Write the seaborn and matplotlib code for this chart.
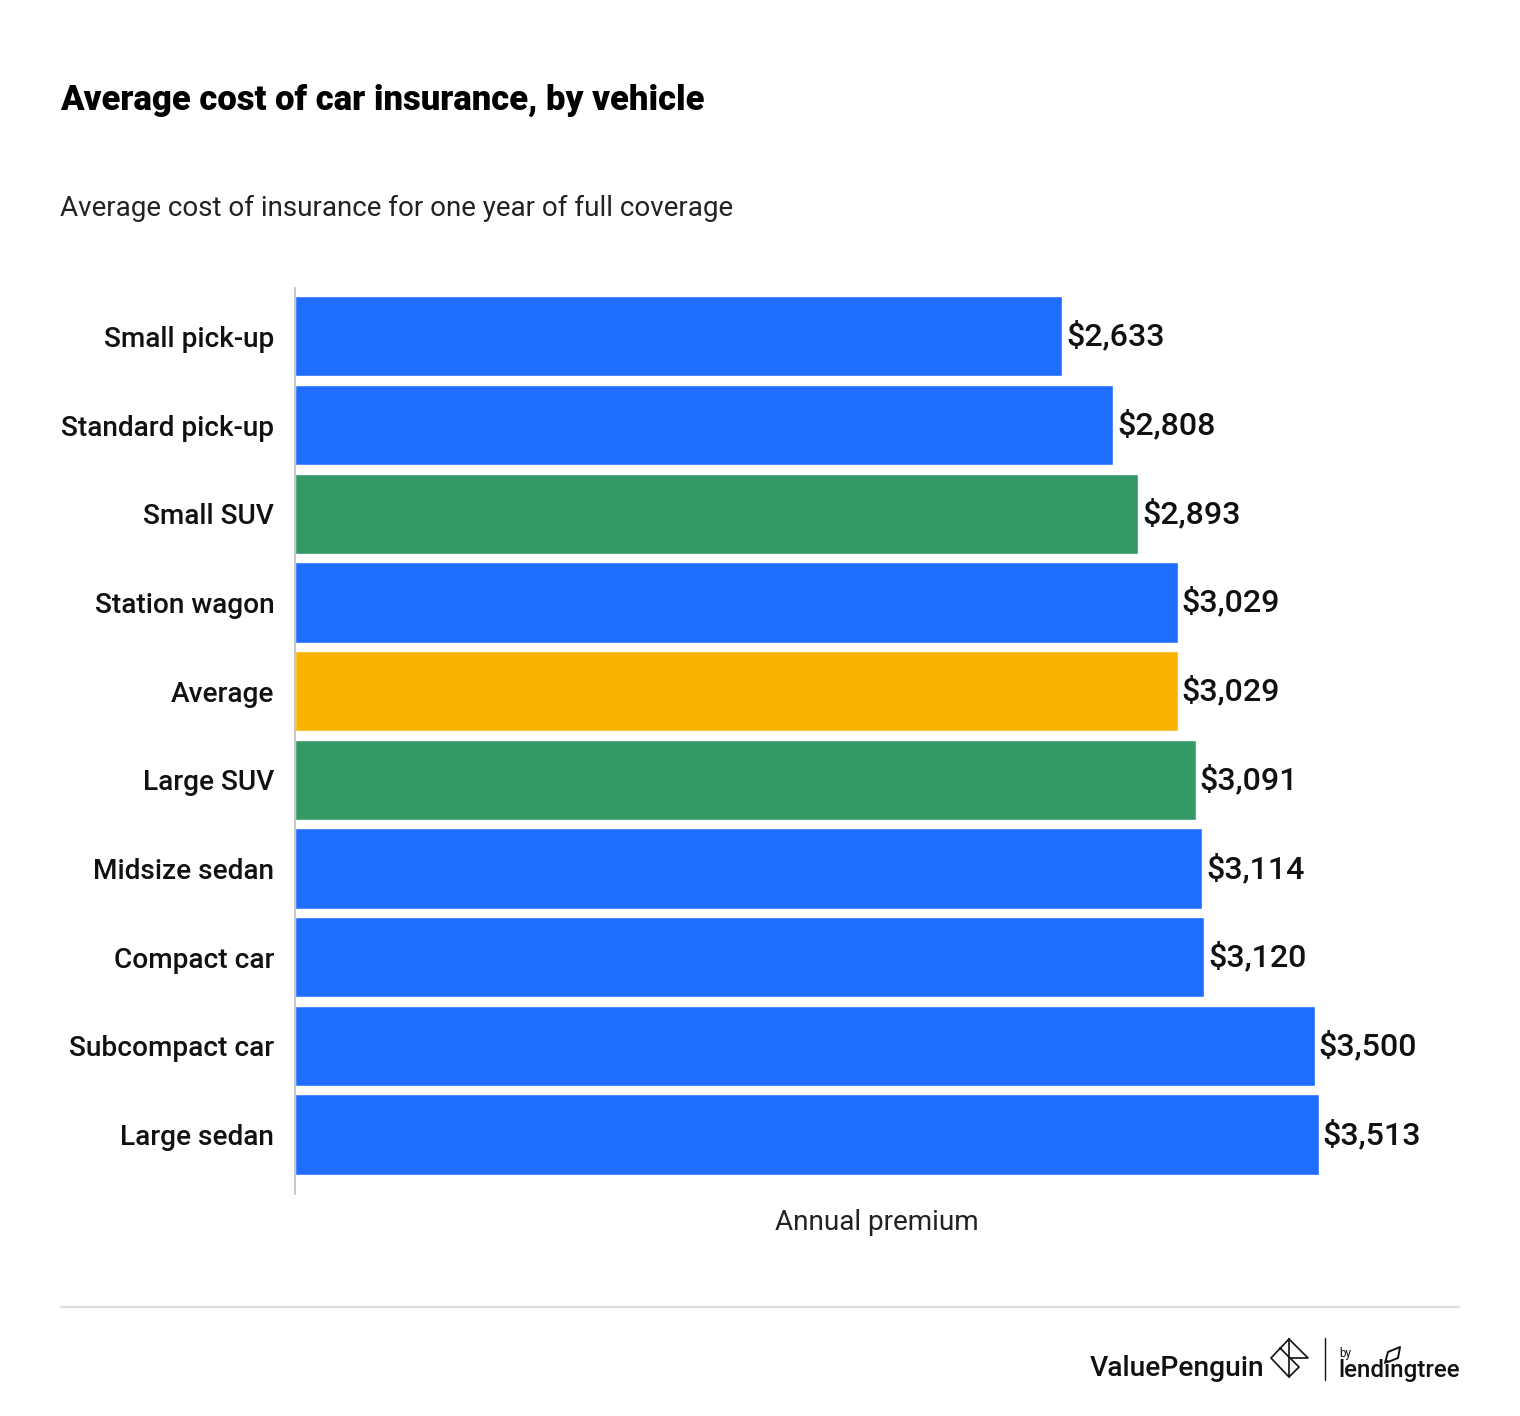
import matplotlib
matplotlib.use('Agg')
import matplotlib.pyplot as plt
from matplotlib.lines import Line2D
import pandas as pd
import seaborn as sns

categories = ['Small pick-up', 'Standard pick-up', 'Small SUV', 'Station wagon', 'Average',
              'Large SUV', 'Midsize sedan', 'Compact car', 'Subcompact car', 'Large sedan']
premiums = [2633, 2808, 2893, 3029, 3029, 3091, 3114, 3120, 3500, 3513]
groups = ['car', 'car', 'suv', 'car', 'avg', 'suv', 'car', 'car', 'car', 'car']
palette = {'car': '#1f6dff', 'suv': '#339966', 'avg': '#fab400'}

sns.set_style('white')
plt.rcParams['font.family'] = ['Roboto', 'DejaVu Sans']
W, H = 1520, 1416

df = pd.DataFrame({'vehicle': categories, 'premium': premiums, 'group': groups})

fig = plt.figure(figsize=(W / 100, H / 100), dpi=100)
ax = fig.add_axes([295 / W, 1 - 1194 / H, (1460 - 295) / W, (1194 - 288) / H])
sns.barplot(data=df, x='premium', y='vehicle', hue='group', palette=palette, dodge=False,
            width=0.905, legend=False, ax=ax, saturation=1)
ax.set_xlim(0, 3998)
ax.set_ylim(9.67, -0.545)
ax.patch.set_alpha(0)
for c in ax.containers:
    labels = ['' if b.get_width() != b.get_width() else '${:,.0f}'.format(b.get_width()) for b in c]
    for t in ax.bar_label(c, labels=labels, padding=2.8, fontsize=23.2, fontweight='medium', color='#111111'):
        t.set_va('center')

sns.despine(ax=ax, top=True, right=True, bottom=True)
ax.spines['left'].set_color('#c8c8c8')
ax.spines['left'].set_linewidth(1.4)
ax.set_xticks([])
ax.set_ylabel('')
ax.set_xlabel('')
ax.tick_params(axis='y', length=0, pad=15)
for t in ax.get_yticklabels():
    t.set_fontsize(20.2)
    t.set_fontweight('medium')
    t.set_color('#111111')


def px(x, y):
    return x / W, 1 - y / H


def stroke(points, lw=1.2):
    fig.add_artist(Line2D([p[0] / W for p in points], [1 - p[1] / H for p in points],
                          color='#111111', lw=lw))


fig.text(*px(60, 100), 'Average cost of car insurance, by vehicle', fontsize=24.9, fontweight='black',
         color='#000000', va='center')
fig.text(*px(60, 208), 'Average cost of insurance for one year of full coverage', fontsize=20,
         color='#222222', va='center')
fig.text(*px(877, 1222), 'Annual premium', fontsize=20.1, color='#222222', va='center', ha='center')

# footer rule and logos
fig.add_artist(Line2D([60 / W, 1460 / W], [1 - 1307 / H] * 2, color='#dddddd', lw=1.6, solid_capstyle='butt'))
fig.text(*px(1090, 1369), 'ValuePenguin', fontsize=20.3, fontweight='medium', color='#111111', va='center')
stroke([(1289, 1339), (1271, 1358), (1289, 1377), (1299, 1367), (1280, 1348)])
stroke([(1289, 1339), (1308, 1358), (1289, 1358)])
stroke([(1289, 1339), (1289, 1377)])
stroke([(1325, 1338), (1325, 1380)], lw=1)
fig.text(*px(1339, 1353), 'by', fontsize=8.5, color='#111111', va='center')
fig.text(*px(1338, 1371), 'lendingtree', fontsize=17.4, fontweight='medium', color='#111111', va='center')
stroke([(1385, 1363), (1388, 1352), (1400, 1347), (1398, 1358), (1388, 1362)], lw=1.4)

fig.savefig('out.png', dpi=100, facecolor='white')
